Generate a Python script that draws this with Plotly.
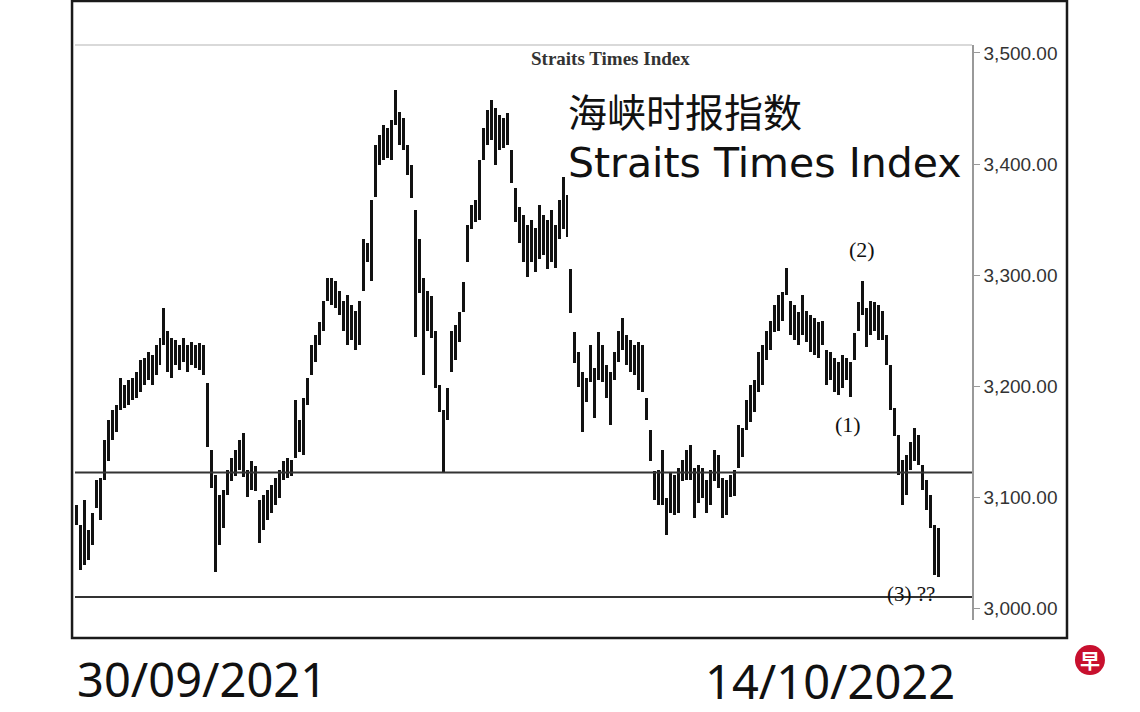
import plotly.graph_objects as go

# Daily high / low of the Straits Times Index, 30/09/2021 - 14/10/2022
highs = [
    3093, 3075, 3097, 3070, 3086, 3115, 3117, 3151, 3169, 3178, 3183, 3207, 3201, 3205, 3207,
    3213, 3223, 3225, 3231, 3228, 3237, 3243, 3270, 3250, 3243, 3241, 3237, 3243, 3237, 3240,
    3237, 3239, 3237,
    3203, 3142, 3120, 3102, 3106, 3124, 3135, 3142, 3151, 3158, 3124, 3132, 3128, 3097, 3102,
    3106, 3111, 3117, 3124, 3132, 3135, 3133, 3187, 3169, 3189, 3207, 3237, 3246, 3258, 3277,
    3297, 3297, 3295, 3286, 3277, 3282, 3273, 3268, 3277, 3332, 3329, 3368, 3417, 3426, 3435,
    3432, 3440, 3467, 3447, 3441, 3417, 3399, 3359, 3332, 3297, 3286, 3281, 3250, 3201, 3178,
    3198, 3250, 3255, 3267, 3294, 3345, 3363, 3368, 3404, 3432, 3449, 3458, 3450, 3444, 3441,
    3446, 3413, 3378, 3361, 3354, 3345, 3350, 3342, 3363, 3354, 3350, 3359, 3345, 3368, 3388,
    3372, 3305, 3249, 3231, 3213, 3207, 3237, 3216, 3249, 3237, 3219, 3213, 3231, 3250, 3261,
    3246, 3241, 3237, 3240, 3237, 3189, 3160, 3123, 3124, 3142, 3099, 3122, 3120, 3126, 3133,
    3142, 3147, 3126, 3129, 3126, 3115, 3124, 3142, 3138, 3117, 3115, 3120, 3124, 3165, 3162,
    3187, 3201, 3205, 3231, 3237, 3250, 3259, 3273, 3282, 3285, 3306, 3277, 3273, 3267, 3282,
    3268, 3264, 3261, 3258, 3259, 3232, 3231, 3225, 3222, 3228, 3225, 3222, 3248, 3276, 3295,
    3270, 3277, 3276, 3273, 3268, 3246, 3219, 3180, 3156, 3133, 3138, 3150, 3162, 3156, 3129,
    3115, 3102, 3075, 3072,
]
lows = [
    3075, 3034, 3039, 3043, 3057, 3090, 3079, 3115, 3132, 3151, 3159, 3178, 3180, 3183, 3187,
    3189, 3195, 3201, 3205, 3201, 3210, 3219, 3237, 3213, 3207, 3219, 3214, 3222, 3213, 3219,
    3216, 3214, 3210,
    3145, 3108, 3032, 3057, 3072, 3102, 3114, 3119, 3124, 3118, 3100, 3106, 3105, 3059, 3070,
    3079, 3086, 3093, 3099, 3115, 3117, 3119, 3135, 3141, 3138, 3183, 3210, 3222, 3237, 3250,
    3277, 3273, 3270, 3264, 3250, 3237, 3241, 3232, 3237, 3286, 3312, 3295, 3370, 3399, 3404,
    3405, 3404, 3435, 3417, 3413, 3390, 3369, 3244, 3284, 3210, 3250, 3243, 3198, 3177, 3122,
    3169, 3213, 3223, 3240, 3267, 3312, 3341, 3348, 3350, 3404, 3417, 3422, 3399, 3413, 3414,
    3417, 3383, 3348, 3329, 3312, 3298, 3312, 3303, 3314, 3318, 3305, 3312, 3306, 3332, 3341,
    3334, 3266, 3221, 3199, 3159, 3186, 3204, 3171, 3205, 3204, 3189, 3165, 3205, 3222, 3232,
    3219, 3213, 3210, 3196, 3195, 3169, 3132, 3097, 3093, 3093, 3066, 3086, 3084, 3086, 3114,
    3115, 3115, 3081, 3095, 3099, 3086, 3093, 3114, 3108, 3081, 3084, 3100, 3101, 3126, 3136,
    3160, 3168, 3177, 3195, 3201, 3223, 3232, 3249, 3250, 3259, 3282, 3246, 3241, 3237, 3246,
    3240, 3231, 3228, 3225, 3237, 3201, 3205, 3195, 3192, 3198, 3205, 3190, 3223, 3250, 3264,
    3235, 3246, 3250, 3241, 3241, 3219, 3178, 3155, 3120, 3093, 3102, 3124, 3132, 3129, 3106,
    3088, 3072, 3030, 3028,
]
n = min(len(highs), len(lows))
highs, lows = highs[:n], lows[:n]
days = list(range(n))

support_levels = [3122, 3010]
y_ticks = [3000, 3100, 3200, 3300, 3400, 3500]
start_label = "30/09/2021"
end_label = "14/10/2022"

fig = go.Figure()
fig.add_trace(go.Bar(
    x=days,
    y=[h - l for h, l in zip(highs, lows)],
    base=lows,
    width=0.75,
    marker=dict(color="#111111", line=dict(width=0)),
    hoverinfo="skip",
    showlegend=False,
))

for lvl in support_levels:
    fig.add_shape(type="line", xref="paper", yref="y", x0=0, x1=1, y0=lvl, y1=lvl,
                  line=dict(color="#333333", width=2))

# light top border of the chart area
fig.add_shape(type="line", xref="paper", yref="paper", x0=0, x1=1, y0=1, y1=1,
              line=dict(color="#cccccc", width=1.5))
# outer black frame
fig.add_shape(type="rect", xref="paper", yref="paper",
              x0=-0.0033, x1=1.1059, y0=-0.0313, y1=1.0765,
              line=dict(color="#1a1a1a", width=2.5), fillcolor="rgba(0,0,0,0)")

ann = []
ann.append(dict(xref="paper", yref="paper", x=0.5975, y=0.977, text="<b>Straits Times Index</b>",
                showarrow=False, xanchor="center", yanchor="middle",
                font=dict(family="Liberation Serif", size=19, color="#333333")))
ann.append(dict(xref="paper", yref="paper", x=0.5474, y=0.887, text="海峡时报指数",
                showarrow=False, xanchor="left", yanchor="middle",
                font=dict(family="Noto Sans CJK SC", size=39, color="#111111")))
ann.append(dict(xref="paper", yref="paper", x=0.5474, y=0.7948, text="Straits Times Index",
                showarrow=False, xanchor="left", yanchor="middle",
                font=dict(family="DejaVu Sans", size=41, color="#111111")))
ann.append(dict(xref="x", yref="y", x=197, y=3323, text="(2)", showarrow=False,
                font=dict(family="Liberation Serif", size=22, color="#111111")))
ann.append(dict(xref="x", yref="y", x=193.3, y=3165, text="(1)", showarrow=False,
                font=dict(family="Liberation Serif", size=22, color="#111111")))
ann.append(dict(xref="x", yref="y", x=209.3, y=3013, text="(3) ??", showarrow=False,
                font=dict(family="Liberation Serif", size=21, color="#111111")))
ann.append(dict(xref="paper", yref="paper", x=0.0, y=-0.102, text=start_label,
                showarrow=False, xanchor="left", yanchor="middle",
                font=dict(family="Noto Sans", size=47, color="#111111")))
ann.append(dict(xref="paper", yref="paper", x=0.7, y=-0.106, text=end_label,
                showarrow=False, xanchor="left", yanchor="middle",
                font=dict(family="Noto Sans", size=47, color="#111111")))
# logo
fig.add_shape(type="circle", xref="paper", yref="paper", xsizemode="pixel", ysizemode="pixel",
              xanchor=1.1315, yanchor=-0.0696, x0=-15, x1=15, y0=-15, y1=15,
              fillcolor="#c8102e", line=dict(width=0))
ann.append(dict(xref="paper", yref="paper", x=1.1315, y=-0.0696, text="<b>早</b>",
                showarrow=False, xanchor="center", yanchor="middle",
                font=dict(family="Noto Sans CJK SC", size=20, color="white")))

# plot area at page pixels x 75..972, y 45..620
fig.update_layout(
    width=1140, height=712,
    margin=dict(l=75, r=168, t=45, b=92, autoexpand=False),
    paper_bgcolor="white", plot_bgcolor="white",
    annotations=ann,
    bargap=0,
    xaxis=dict(visible=False, range=[-0.3, 224.5]),
    yaxis=dict(side="right", range=[2989.2, 3507.2], showgrid=False, zeroline=False,
               showline=True, linecolor="#999999", linewidth=1.5,
               ticks="outside", ticklen=6, tickcolor="#999999",
               tickvals=y_ticks, tickformat=",.2f",
               tickfont=dict(family="Liberation Sans", size=19, color="#333333")),
)

fig.write_html("out.html", config={"displayModeBar": False},
               post_script="document.body.style.margin='0px';document.body.style.overflow='hidden';")
